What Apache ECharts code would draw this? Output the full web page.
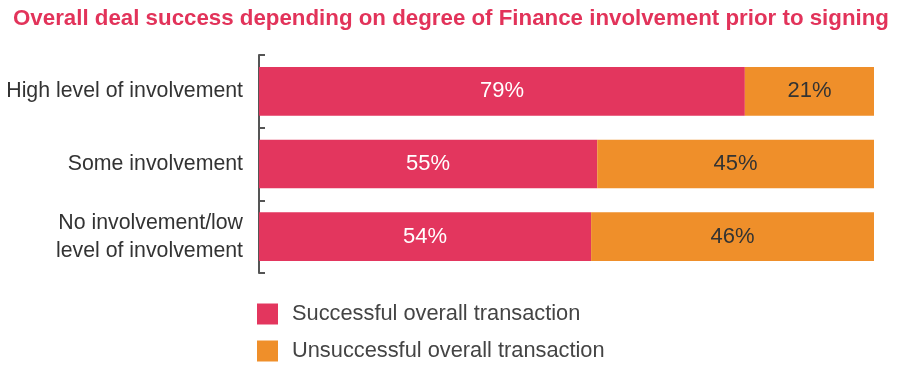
<!DOCTYPE html>
<html><head><meta charset="utf-8">
<script src="https://cdn.jsdelivr.net/npm/echarts@6/dist/echarts.min.js"></script>
<style>html,body{margin:0;padding:0;background:#fff}#c{width:900px;height:368px}</style>
</head><body><div id="c"></div>
<script>
const categories = ['High level of involvement', 'Some involvement', 'No involvement/low\nlevel of involvement'];
const successful = [79, 55, 54];
const unsuccessful = [21, 45, 46];
const seriesNames = ['Successful overall transaction', 'Unsuccessful overall transaction'];
const titleText = 'Overall deal success depending on degree of Finance involvement prior to signing';

const font = 'Liberation Sans, Arial, Helvetica, sans-serif';
const chart = echarts.init(document.getElementById('c'), null, {renderer: 'canvas'});
chart.setOption({
  animation: false,
  title: {
    text: titleText, left: 8, top: 3,
    textStyle: {fontFamily: font, fontSize: 22.3, fontWeight: 'bold', color: '#e2335a'}
  },
  grid: {left: 259, right: 26, top: 55, bottom: 95, containLabel: false},
  legend: {
    orient: 'vertical', left: 257, top: 303, padding: 0,
    itemWidth: 21, itemHeight: 21, itemGap: 15, icon: 'rect',
    textStyle: {fontFamily: font, fontSize: 21.8, color: '#444', padding: [0, 0, 0, 9]},
    data: seriesNames
  },
  xAxis: {type: 'value', min: 0, max: 100, show: false},
  yAxis: {
    type: 'category', data: categories, inverse: true,
    axisLine: {show: true, lineStyle: {color: '#555', width: 2}},
    axisTick: {show: true, inside: true, length: 6, lineStyle: {color: '#555', width: 2}},
    axisLabel: {fontFamily: font, fontSize: 21.3, color: '#333', margin: 16, lineHeight: 28, align: 'right'}
  },
  series: [
    {
      name: seriesNames[0], type: 'bar', stack: 'a', data: successful, barCategoryGap: '33%',
      itemStyle: {color: '#e3365e'},
      label: {show: true, position: 'inside', formatter: '{c}%', fontFamily: font, fontSize: 22, color: '#fff'}
    },
    {
      name: seriesNames[1], type: 'bar', stack: 'a', data: unsuccessful, barCategoryGap: '33%',
      itemStyle: {color: '#ef8f2a'},
      label: {show: true, position: 'inside', formatter: '{c}%', fontFamily: font, fontSize: 22, color: '#333'}
    }
  ]
});
</script></body></html>
